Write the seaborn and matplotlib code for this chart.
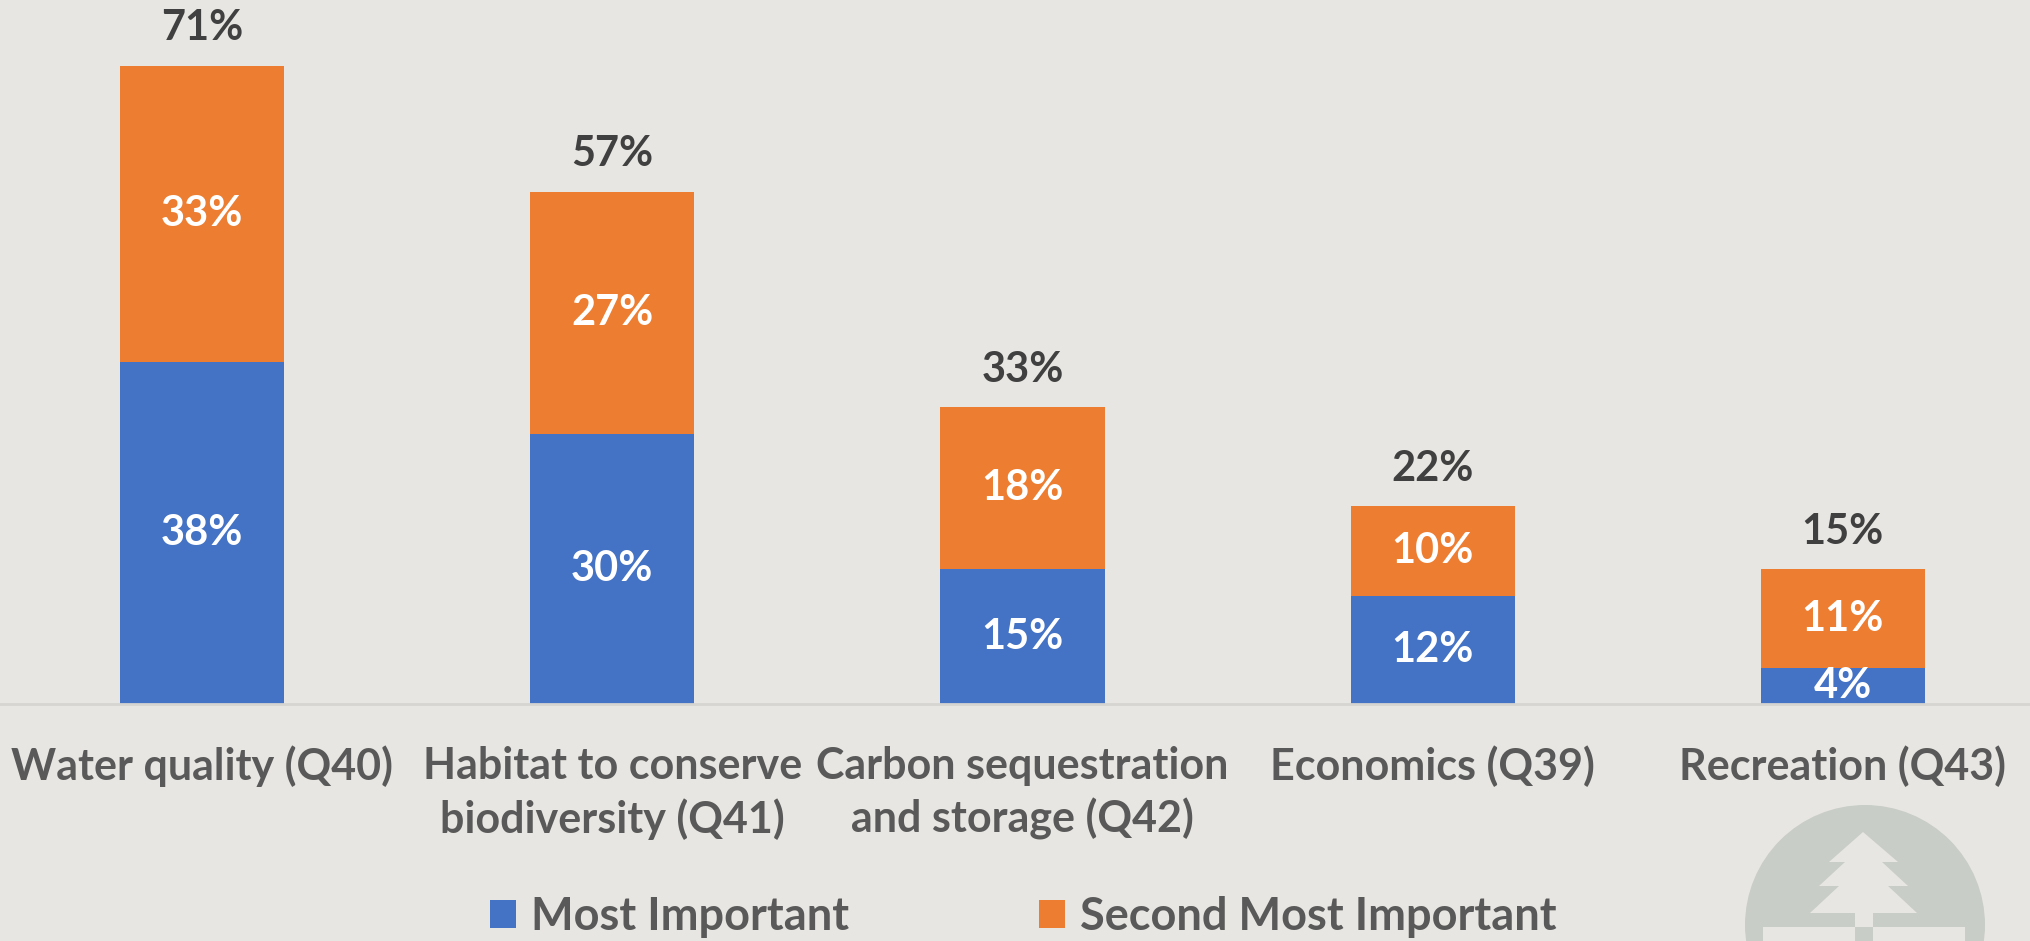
import matplotlib
matplotlib.use("Agg")
import matplotlib.pyplot as plt
import seaborn as sns
import pandas as pd
import numpy as np
from matplotlib.patches import Patch, Polygon, Rectangle, Ellipse

categories = ["Water quality (Q40)", "Habitat to conserve\nbiodiversity (Q41)",
              "Carbon sequestration\nand storage (Q42)", "Economics (Q39)", "Recreation (Q43)"]
most_important = [38, 30, 15, 12, 4]
second_important = [33, 27, 18, 10, 11]
totals = [71, 57, 33, 22, 15]
series_names = ["Most Important", "Second Most Important"]

BG = "#E8E6E2"
BLUE = "#4472C4"
ORANGE = "#ED7D31"
FONT = ["Lato", "DejaVu Sans"]

sns.set_theme(style="white")
plt.rcParams["font.family"] = FONT
plt.rcParams["font.weight"] = "bold"

W, H = 2030, 941
fig = plt.figure(figsize=(W / 100, H / 100), dpi=100, facecolor=BG)

base_px = 704
ax = fig.add_axes([-3 / W, (H - base_px) / H, 2051 / W, base_px / H])
ax.set_facecolor(BG)

df = pd.DataFrame({"cat": categories, "most": most_important,
                   "second": second_important,
                   "total": [m + s for m, s in zip(most_important, second_important)]})

sns.barplot(data=df, x="cat", y="total", color=ORANGE, width=0.4, ax=ax, saturation=1,
            linewidth=0, edgecolor="none")
sns.barplot(data=df, x="cat", y="most", color=BLUE, width=0.4, ax=ax, saturation=1,
            linewidth=0, edgecolor="none")

ax.set_ylim(0, base_px / 8.99)
ax.set_xlim(-0.5, 4.5)
ax.set_xlabel("")
ax.set_ylabel("")
ax.set_yticks([])
for s in ["top", "left", "right"]:
    ax.spines[s].set_visible(False)
ax.spines["bottom"].set_color("#D6D5D1")
ax.spines["bottom"].set_linewidth(2)
ax.tick_params(axis="x", length=0, pad=30, labelsize=31, labelcolor="#595959")
for t in ax.get_xticklabels():
    t.set_fontweight("bold")
    t.set_linespacing(1.36)

for i, (m, s, tot) in enumerate(zip(most_important, second_important, totals)):
    ax.text(i, m / 2, f"{m}%", ha="center", va="center", color="white",
            fontsize=30, fontweight="bold", clip_on=True)
    ax.text(i, m + s / 2, f"{s}%", ha="center", va="center", color="white",
            fontsize=30, fontweight="bold", clip_on=True)
    ax.annotate(f"{tot}%", (i, m + s), xytext=(0, 27), textcoords="offset points",
                ha="center", va="center", color="#404040", fontsize=30, fontweight="bold",
                annotation_clip=False)

# decorative logo in the lower right corner
def fx(x):
    return x / W
def fy(y):
    return 1 - y / H
logo_col = "#C8CDC7"
fig.patches.append(Ellipse((fx(1865), fy(925)), 240 / W, 240 / H, transform=fig.transFigure,
                           facecolor=logo_col, edgecolor="none", zorder=0))
tree = [(1863, 832), (1898, 862), (1882, 862), (1908, 886), (1888, 886), (1917, 913),
        (1873, 913), (1873, 927), (1855, 927), (1855, 913), (1810, 913), (1839, 886),
        (1819, 886), (1845, 862), (1829, 862)]
fig.patches.append(Polygon([(fx(x), fy(y)) for x, y in tree], closed=True, transform=fig.transFigure,
                           facecolor=BG, edgecolor="none", zorder=0))
fig.patches.append(Rectangle((fx(1763), fy(941)), 202 / W, 14 / H, transform=fig.transFigure,
                             facecolor=BG, edgecolor="none", zorder=0))
fig.patches.append(Rectangle((fx(1855), fy(941)), 18 / W, 14 / H, transform=fig.transFigure,
                             facecolor=logo_col, edgecolor="none", zorder=0))

handles = [Patch(facecolor=BLUE, edgecolor="none"), Patch(facecolor=ORANGE, edgecolor="none")]
leg = fig.legend(handles, series_names, loc="center", bbox_to_anchor=(1023 / W, 1 - 917 / H),
                 ncol=2, frameon=False, handlelength=0.58, handleheight=0.58,
                 handletextpad=0.33, columnspacing=4.2, labelcolor="#595959",
                 prop={"weight": "bold", "size": 32.5, "family": FONT})

fig.savefig("out.png", dpi=100, facecolor=BG)
